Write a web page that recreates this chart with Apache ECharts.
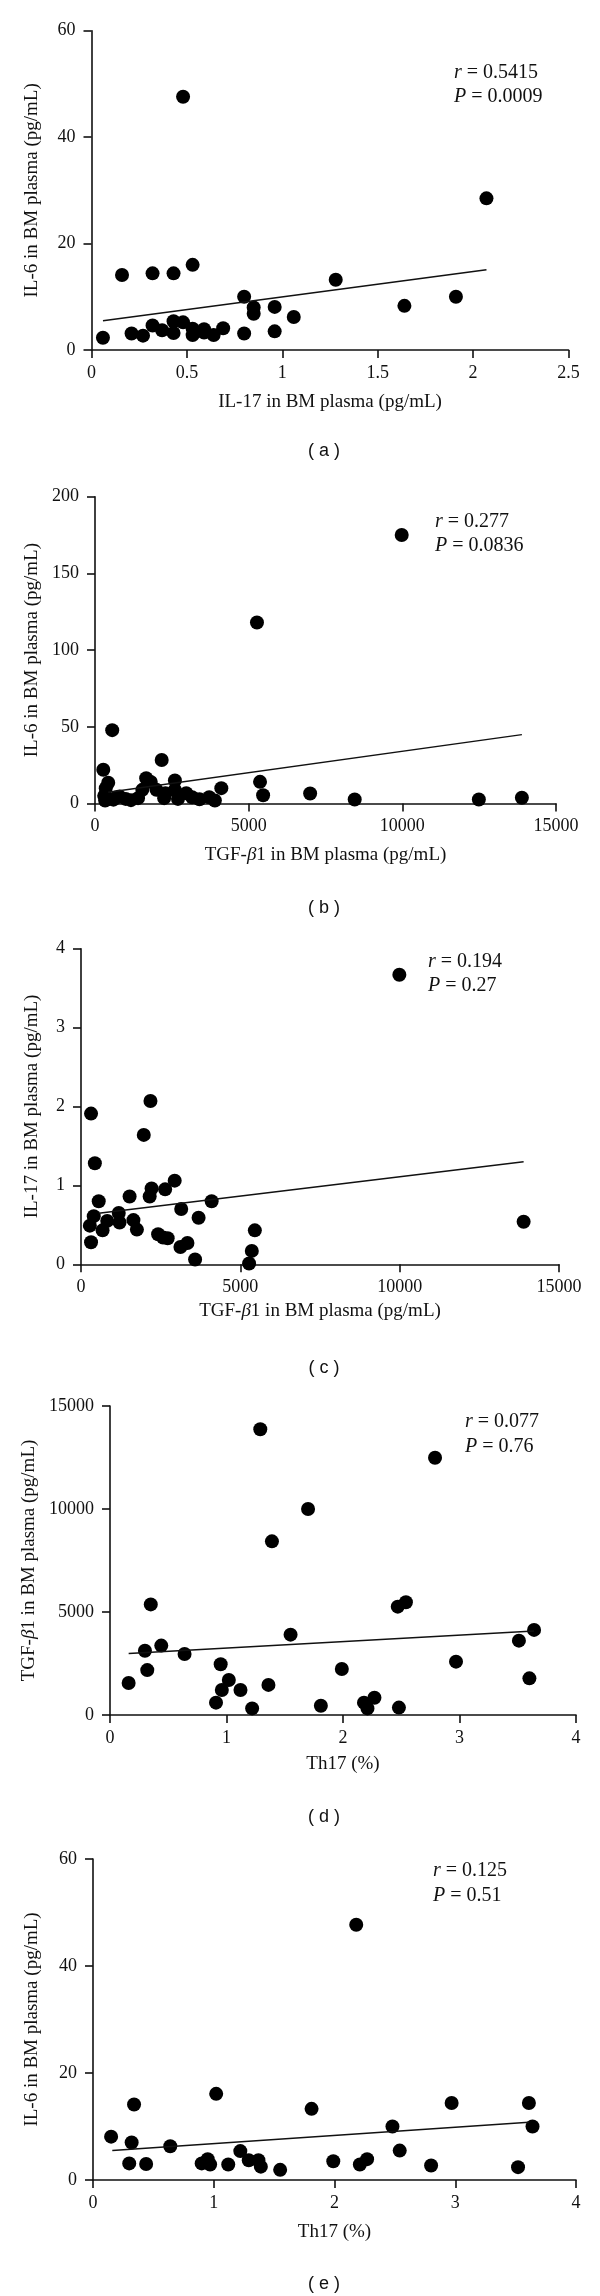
<!DOCTYPE html>
<html><head><meta charset="utf-8">
<script src="https://cdn.jsdelivr.net/npm/echarts@6/dist/echarts.min.js"></script>
<style>html,body{margin:0;padding:0;background:#fff}#c{width:600px;height:2296px}</style>
</head><body><div id="c"></div>
<script>
// ---- Panel (a): IL-17 vs IL-6 ----
const aIL17 = [0.06,0.16,0.21,0.27,0.32,0.32,0.37,0.43,0.43,0.43,0.48,0.48,0.53,0.53,0.53,0.59,0.59,0.64,0.69,0.80,0.80,0.85,0.85,0.96,0.96,1.06,1.28,1.64,1.91,2.07];
const aIL6  = [2.3,14.1,3.1,2.7,14.4,4.6,3.7,14.4,5.4,3.2,47.6,5.2,16.0,4.0,2.8,3.9,3.3,2.8,4.1,10.0,3.1,8.0,6.8,8.1,3.5,6.2,13.2,8.3,10.0,28.5];
const aFitX = [0.06,2.07];
const aFitY = [5.5,15.1];
// ---- Panel (b): TGF-b1 vs IL-6 ----
const bTGF = [9980,5270,560,270,2170,430,350,300,330,450,600,700,800,1000,1170,1400,1540,1665,1815,2000,2250,2290,2600,2600,2700,2970,3160,3400,3715,3900,4110,5370,5470,7000,8450,12490,13890];
const bIL6 = [175,118,47.8,22,28.4,13.5,10,5,2,3,2.5,4,4.5,3,2.2,3.5,8.9,16.5,14,8.9,3.5,6.7,15,8.9,3,6.7,4.1,2.8,4.1,2.0,10,14.1,5.4,6.5,2.6,2.6,3.7];
const bFitX = [430,13890];
const bFitY = [7.4,44.9];
// ---- Panel (c): TGF-b1 vs IL-17 ----
const cTGF = [9990,13890,315,2180,1970,435,2940,2215,2155,2640,1525,556,4100,3145,3690,1185,1210,823,400,278,677,1645,1754,315,2420,2575,2720,3120,3340,3580,5360,5455,5275];
const cIL17 = [3.67,0.54,1.91,2.07,1.64,1.28,1.06,0.96,0.86,0.95,0.86,0.80,0.80,0.70,0.59,0.65,0.53,0.55,0.61,0.49,0.43,0.56,0.44,0.28,0.38,0.34,0.33,0.22,0.27,0.06,0.17,0.43,0.01];
const cFitX = [556,13890];
const cFitY = [0.646,1.30];
// ---- Panel (d): Th17 vs TGF-b1 ----
const dTh17 = [1.29,2.79,1.70,1.39,0.35,2.47,2.54,1.55,3.64,3.51,0.44,0.30,0.64,0.95,2.97,0.32,1.99,0.16,3.60,1.02,1.36,0.96,1.12,0.91,1.22,1.81,2.18,2.21,2.27,2.48];
const dTGF  = [13870,12490,10000,8430,5370,5260,5470,3900,4130,3610,3370,3120,2960,2460,2590,2180,2230,1550,1780,1700,1460,1210,1210,600,320,450,600,320,840,360];
const dFitX = [0.16,3.64];
const dFitY = [2990,4080];
// ---- Panel (e): Th17 vs IL-6 ----
const eTh17 = [2.18,1.02,0.34,1.81,2.97,3.61,2.48,3.64,0.15,0.32,0.64,1.22,2.54,0.30,0.44,0.90,0.95,0.97,1.12,1.29,1.37,1.39,1.55,1.99,2.21,2.27,2.80,3.52];
const eIL6  = [47.7,16.1,14.1,13.3,14.4,14.4,10.0,10.0,8.1,7.0,6.3,5.4,5.5,3.1,3.0,3.1,3.9,2.9,2.9,3.7,3.7,2.5,1.9,3.5,2.9,3.9,2.7,2.4];
const eFitX = [0.16,3.61];
const eFitY = [5.5,10.8];

const xTitles = ['IL-17 in BM plasma (pg/mL)','TGF-{b|β}1 in BM plasma (pg/mL)','TGF-{b|β}1 in BM plasma (pg/mL)','Th17 (%)','Th17 (%)'];
const yTitles = ['IL-6 in BM plasma (pg/mL)','IL-6 in BM plasma (pg/mL)','IL-17 in BM plasma (pg/mL)','TGF-{b|β}1 in BM plasma (pg/mL)','IL-6 in BM plasma (pg/mL)'];
const xRanges = [[0,2.5,0.5],[0,15000,5000],[0,15000,5000],[0,4,1],[0,4,1]];
const yRanges = [[0,60,20],[0,200,50],[0,4,1],[0,15000,5000],[0,60,20]];
const rTexts = ['0.5415','0.277','0.194','0.077','0.125'];
const pTexts = ['0.0009','0.0836','0.27','0.76','0.51'];
const panelLabels = ['a','b','c','d','e'];

const panels = [
  {x:aIL17,y:aIL6,fx:aFitX,fy:aFitY},
  {x:bTGF,y:bIL6,fx:bFitX,fy:bFitY},
  {x:cTGF,y:cIL17,fx:cFitX,fy:cFitY},
  {x:dTh17,y:dTGF,fx:dFitX,fy:dFitY},
  {x:eTh17,y:eIL6,fx:eFitX,fy:eFitY}
];

// layout (pixels)
const layout = [
  {left:91.5, top:30.7, width:477, height:319.3, xGap:43, yGap:50, ann:[454,74,98], lab:451},
  {left:95, top:496.7, width:461, height:306.8, xGap:42, yGap:53, ann:[435,523,547], lab:908},
  {left:81, top:948.7, width:478, height:315.6, xGap:37, yGap:39, ann:[428,963,987], lab:1368},
  {left:110, top:1406, width:466, height:309, xGap:40, yGap:68, ann:[465,1423,1448], lab:1817},
  {left:93, top:1859, width:483, height:321, xGap:43, yGap:51, ann:[433,1872,1897], lab:2284}
];

const SERIF = 'Liberation Serif';
const TXT = '#111';
const axisLine = {show:true, lineStyle:{color:'#111', width:1.6}};
const axisTick = {show:true, length:8, lineStyle:{color:'#111', width:1.6}};
const richB = {b:{fontStyle:'italic', fontFamily:SERIF, fontSize:19, color:TXT}};
const plain = v => String(v);

const grid=[], xAxis=[], yAxis=[], series=[], graphic=[];
panels.forEach((p,i)=>{
  const L = layout[i];
  grid.push({left:L.left, top:L.top, width:L.width, height:L.height, outerBoundsMode:'none', containLabel:false});
  xAxis.push({type:'value', gridIndex:i, min:xRanges[i][0], max:xRanges[i][1], interval:xRanges[i][2],
    splitLine:{show:false}, axisLine, axisTick,
    axisLabel:{margin:14, fontFamily:SERIF, fontSize:18, color:TXT, formatter:plain},
    name:xTitles[i], nameLocation:'middle', nameGap:L.xGap,
    nameTextStyle:{fontFamily:SERIF, fontSize:19, color:TXT, rich:richB}});
  yAxis.push({type:'value', gridIndex:i, min:yRanges[i][0], max:yRanges[i][1], interval:yRanges[i][2],
    splitLine:{show:false}, axisLine, axisTick,
    axisLabel:{margin:16, fontFamily:SERIF, fontSize:18, color:TXT, formatter:plain},
    name:yTitles[i], nameLocation:'middle', nameGap:L.yGap,
    nameTextStyle:{fontFamily:SERIF, fontSize:19, color:TXT, rich:richB}});
  series.push({type:'scatter', xAxisIndex:i, yAxisIndex:i, symbol:'circle', symbolSize:14,
    itemStyle:{color:'#000', opacity:1}, data:p.x.map((v,k)=>[v,p.y[k]]), silent:true});
  series.push({type:'line', xAxisIndex:i, yAxisIndex:i, symbol:'none',
    lineStyle:{color:'#111', width:1.5}, data:p.fx.map((v,k)=>[v,p.fy[k]]), silent:true});
  const rich = {i:{fontStyle:'italic', fontFamily:SERIF, fontSize:20, fill:TXT, color:TXT}};
  graphic.push({type:'text', left:L.ann[0], top:L.ann[1]-11, style:{text:'{i|r} = '+rTexts[i], font:'20px '+SERIF, fill:TXT, rich}});
  graphic.push({type:'text', left:L.ann[0], top:L.ann[2]-11, style:{text:'{i|P} = '+pTexts[i], font:'20px '+SERIF, fill:TXT, rich}});
  graphic.push({type:'text', x:324, y:L.lab, style:{text:'( '+panelLabels[i]+' )', font:'18px Liberation Sans', fill:TXT, align:'center', verticalAlign:'middle'}});
});

const chart = echarts.init(document.getElementById('c'), null, {renderer:'canvas'});
chart.setOption({animation:false, backgroundColor:'#fff', grid, xAxis, yAxis, series, graphic});
</script>
</body></html>
